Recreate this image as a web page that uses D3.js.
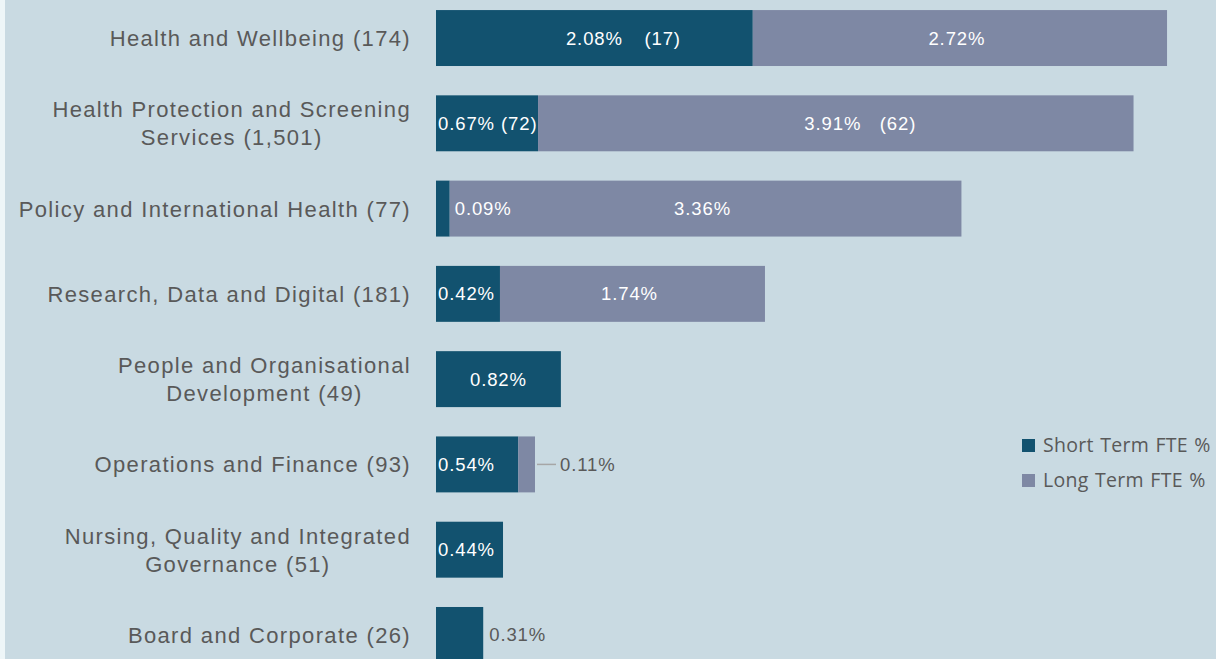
<!DOCTYPE html>
<html>
<head>
<meta charset="utf-8">
<script src="https://cdn.jsdelivr.net/npm/d3@7"></script>
<style>
  html, body { margin: 0; padding: 0; background: #c9dae2; }
  svg { display: block; }
</style>
</head>
<body>
<div id="chart"></div>
<script>
var categories = [
  ["Health and Wellbeing (174)"],
  ["Health Protection and Screening", "Services (1,501)"],
  ["Policy and International Health (77)"],
  ["Research, Data and Digital (181)"],
  ["People and Organisational", "Development (49)"],
  ["Operations and Finance (93)"],
  ["Nursing, Quality and Integrated", "Governance (51)"],
  ["Board and Corporate (26)"]
];
var shortTerm = [2.08, 0.67, 0.09, 0.42, 0.82, 0.54, 0.44, 0.31];
var longTerm = [2.72, 3.91, 3.36, 1.74, 0, 0.11, 0, 0];
var shortNotes = ["(17)", "(72)", "", "", "", "", "", ""];
var longNotes = ["", "(62)", "", "", "", "", "", ""];
var seriesNames = ["Short Term FTE %", "Long Term FTE %"];

var width = 1216,
  height = 659;
var colors = ["#12526f", "#7e88a4"];
var textGrey = "#595959";
var font = "Liberation Sans, Arial, sans-serif";

var svg = d3
  .select("#chart")
  .append("svg")
  .attr("width", width)
  .attr("height", height);

svg.append("rect").attr("width", width).attr("height", height).attr("fill", "#c9dae2");
svg.append("rect").attr("width", 5).attr("height", height).attr("fill", "#eef6f8");

var keys = categories.map(function(c) { return c.join(" "); });

var x = d3.scaleLinear().domain([0, 5]).range([436, 436 + 761.5]);
var y = d3
  .scaleBand()
  .domain(keys)
  .range([-4.6, 677.6])
  .paddingInner(0.344)
  .paddingOuter(0.172);

var rows = keys.map(function(k, i) {
  return { key: k, lines: categories[i], s: shortTerm[i], l: longTerm[i], sn: shortNotes[i], ln: longNotes[i] };
});

// category labels
var labels = svg
  .selectAll("text.cat")
  .data(rows)
  .enter()
  .append("text")
  .attr("class", "cat")
  .attr("text-anchor", "middle")
  .attr("font-family", font)
  .attr("font-size", "22px")
  .attr("letter-spacing", "1.35px")
  .attr("fill", textGrey);

labels.each(function(d) {
  var t = d3.select(this);
  var cy = y(d.key) + y.bandwidth() / 2;
  var n = d.lines.length;
  d.lines.forEach(function(line, j) {
    t.append("tspan")
      .attr("x", 0)
      .attr("y", cy + (j - (n - 1) / 2) * 28 + 8)
      .text(line);
  });
});
// right-align the label blocks at x=410, centring lines within each block
labels.each(function() {
  var bb = this.getBBox();
  var cx = 411 - bb.width / 2;
  d3.select(this).selectAll("tspan").attr("x", cx);
});

// bars
var g = svg.selectAll("g.row").data(rows).enter().append("g").attr("class", "row");

g.append("rect")
  .attr("x", x(0))
  .attr("y", function(d) { return y(d.key); })
  .attr("height", y.bandwidth())
  .attr("width", function(d) { return x(d.s) - x(0); })
  .attr("fill", colors[0]);

g.filter(function(d) { return d.l > 0; })
  .append("rect")
  .attr("x", function(d) { return x(d.s); })
  .attr("y", function(d) { return y(d.key); })
  .attr("height", y.bandwidth())
  .attr("width", function(d) { return x(d.s + d.l) - x(d.s); })
  .attr("fill", colors[1]);

var fmt = function(v) { return v.toFixed(2) + "%"; };

function addLabel(sel, xPos, yPos, txt, anchor, fill) {
  return sel
    .append("text")
    .attr("x", xPos)
    .attr("y", yPos)
    .attr("text-anchor", anchor)
    .attr("font-family", font)
    .attr("font-size", "18.5px")
    .attr("letter-spacing", "0.9px")
    .attr("fill", fill)
    .text(txt);
}

g.each(function(d) {
  var row = d3.select(this);
  var cy = y(d.key) + y.bandwidth() / 2 + 6.5;
  var w = x(d.s) - x(0);
  // short term label
  if (w > 150) {
    addLabel(row, (x(0) + x(d.s)) / 2, cy, fmt(d.s), "middle", "#fff");
    if (d.sn) addLabel(row, (x(0) + x(d.s)) / 2 + 50, cy, d.sn, "start", "#fff");
  } else if (w > 55) {
    var t = fmt(d.s) + (d.sn ? " " + d.sn : "");
    if (w > 110) addLabel(row, (x(0) + x(d.s)) / 2, cy, t, "middle", "#fff");
    else addLabel(row, x(0) + 2, cy, t, "start", "#fff");
  } else if (d.l > 0) {
    addLabel(row, x(d.s) + 5, cy, fmt(d.s), "start", "#fff");
  } else {
    addLabel(row, x(d.s) + 6, cy, fmt(d.s), "start", textGrey);
  }
  // long term label
  if (d.l > 0) {
    var lw = x(d.s + d.l) - x(d.s);
    if (lw > 60) {
      var mid = (x(d.s) + x(d.s + d.l)) / 2;
      addLabel(row, mid - 3, cy, fmt(d.l), "middle", "#fff");
      if (d.ln) addLabel(row, mid + 44, cy, d.ln, "start", "#fff");
    } else {
      var ex = x(d.s + d.l);
      row.append("line")
        .attr("x1", ex + 2).attr("x2", ex + 21)
        .attr("y1", cy - 6.5).attr("y2", cy - 6.5)
        .attr("stroke", "#a6a6a6").attr("stroke-width", 1.5);
      addLabel(row, ex + 25, cy, fmt(d.l), "start", textGrey);
    }
  }
});

// legend
var legend = svg
  .selectAll("g.legend")
  .data(seriesNames)
  .enter()
  .append("g")
  .attr("class", "legend")
  .attr("transform", function(d, i) { return "translate(1022," + (439 + i * 35) + ")"; });

legend.append("rect")
  .attr("width", 13)
  .attr("height", 13)
  .attr("fill", function(d, i) { return colors[i]; });

legend.append("text")
  .attr("x", 21)
  .attr("y", 13)
  .attr("font-family", "Open Sans, sans-serif")
  .attr("font-size", "19.5px")
  .attr("letter-spacing", "0.3px")
  .attr("word-spacing", "1px")
  .attr("fill", textGrey)
  .text(function(d) { return d; });
</script>
</body>
</html>
